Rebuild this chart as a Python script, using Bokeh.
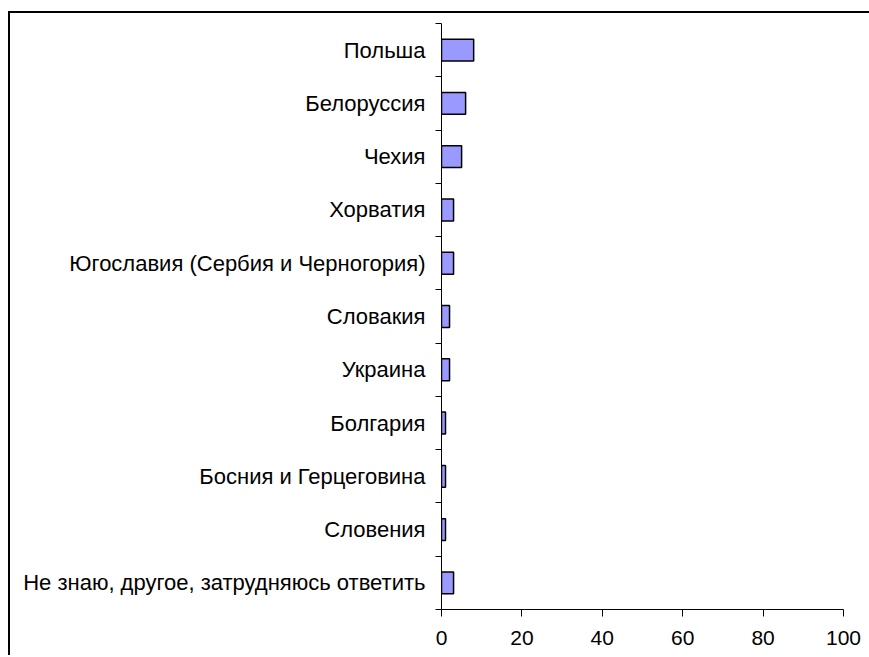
from bokeh.plotting import figure
from bokeh.models import FixedTicker, Range1d, ColumnDataSource, InlineStyleSheet
from bokeh.embed import file_html
from bokeh.resources import INLINE

countries = [
    "Польша",
    "Белоруссия",
    "Чехия",
    "Хорватия",
    "Югославия (Сербия и Черногория)",
    "Словакия",
    "Украина",
    "Болгария",
    "Босния и Герцеговина",
    "Словения",
    "Не знаю, другое, затрудняюсь ответить",
]
values = [8, 6, 5, 3, 3, 2, 2, 1, 1, 1, 3]
x_ticks = [0, 20, 40, 60, 80, 100]

n = len(countries)
# top category first: position index from the top
centers = [n - i - 0.5 for i in range(n)]

src = ColumnDataSource(dict(y=centers, right=values, name=countries))

p = figure(
    width=893, height=644,
    min_border_left=431, min_border_top=10, min_border_right=60, min_border_bottom=48,
    x_range=Range1d(0, 100), y_range=Range1d(0, n),
    output_backend="svg", toolbar_location=None,
)
p.styles = {
    "margin-top": "13px", "margin-left": "10px",
}
p.stylesheets = [InlineStyleSheet(css=":host { box-shadow: -2px -2px 0px 0px black; }")]

p.hbar(y="y", left=0, right="right", height=0.41, source=src,
       fill_color="#9999FF", line_color="black", line_width=1.5)

p.grid.visible = False
p.outline_line_color = None
p.background_fill_color = "white"
p.border_fill_color = "white"

# x axis
xa = p.xaxis[0]
xa.ticker = FixedTicker(ticks=x_ticks)
xa.major_tick_in = 0
xa.major_tick_out = 7
xa.minor_tick_line_color = None
xa.axis_line_color = "black"
xa.major_tick_line_color = "black"
xa.major_label_text_font = "Liberation Sans"
xa.major_label_text_font_size = "21px"
xa.major_label_text_color = "black"
xa.major_label_standoff = 14

# y axis
ya = p.yaxis[0]
ya.ticker = FixedTicker(ticks=centers, minor_ticks=list(range(n + 1)))
ya.major_label_overrides = {c: name for c, name in zip(centers, countries)}
ya.major_tick_line_color = None
ya.major_tick_in = 0
ya.major_tick_out = 0
ya.minor_tick_in = 0
ya.minor_tick_out = 6
ya.minor_tick_line_color = "black"
ya.axis_line_color = "black"
ya.major_label_text_font = "Liberation Sans"
ya.major_label_text_font_size = "22px"
ya.major_label_text_color = "black"
ya.major_label_standoff = 10

open("out.html", "w").write(file_html(p, INLINE))
